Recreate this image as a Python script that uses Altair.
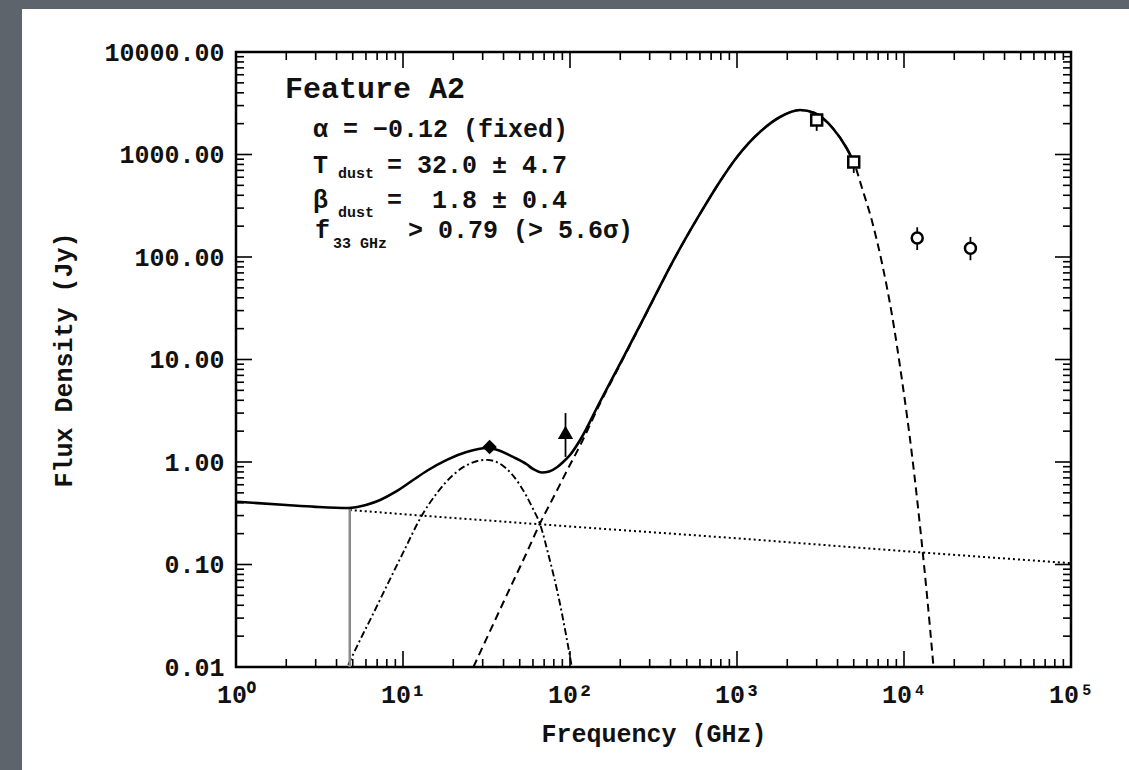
import altair as alt
import pandas as pd

# ---------------- data ----------------
# total model (solid)
total_freq = [1, 2, 3, 4.7, 6, 7.3, 9, 11.5, 14, 18.3, 24, 31.8, 38, 45.6, 55, 60, 68, 75, 84, 91, 100,
              115, 151, 205, 301, 402, 600, 801, 1000, 1392, 1809, 2384, 2915, 3737, 4530, 5000]
total_flux = [0.41, 0.38, 0.365, 0.356, 0.381, 0.426, 0.51, 0.667, 0.826, 1.05, 1.25, 1.37, 1.29, 1.12, 0.95, 0.855,
              0.79, 0.808, 0.894, 1.0, 1.17,
              1.64, 3.85, 9.9, 33.3, 83.5, 263, 564, 945, 1695, 2322, 2716, 2541, 1814, 1157, 845]

# free-free power law (dotted)
ff_freq = [4.8, 10, 100, 1000, 10000, 100000]
ff_flux = [0.34, 0.31, 0.235, 0.18, 0.135, 0.103]

# spinning dust (dash-dot)
spin_freq = [4.7, 5.5, 6.5, 8, 10, 13.2, 16, 20, 25, 31.7, 40, 50, 60, 66, 75, 85, 95, 102]
spin_flux = [0.0105, 0.018, 0.031, 0.062, 0.13, 0.316, 0.5, 0.75, 0.96, 1.05, 0.91, 0.6, 0.35, 0.25, 0.117, 0.05, 0.02, 0.0105]

# thermal dust (dashed)
dust_freq = [26.4, 35, 45, 55, 66, 80, 100, 115, 151, 205, 301, 402, 600, 801, 1000, 1392, 1809, 2384,
             2915, 3737, 4530, 5000, 5604, 6432, 7385, 8474, 9728, 11166, 12815, 13731, 15020]
dust_flux = [0.01, 0.027, 0.065, 0.13, 0.25, 0.46, 0.94, 1.45, 3.7, 9.7, 33, 83, 263, 564, 945, 1695, 2322, 2716,
             2541, 1814, 1157, 845, 471, 224, 87, 27.2, 6.3, 1.17, 0.155, 0.05, 0.01]

# vertical grey marker
vline_freq = [4.8]
vline_lo = [0.01]
vline_hi = [0.355]

# measurements
pt_freq = [33, 94, 3000, 5000, 12000, 25000]
pt_flux = [1.40, 1.92, 2170, 845, 153, 122]
pt_lo = [1.24, 1.12, 1700, 660, 117, 93]
pt_hi = [1.52, 3.0, 2510, 946, 195, 157]
pt_kind = ["diamond", "triangle", "square", "circle", "circle2", "circle2"]
pt_kind = ["diamond", "triangle", "square", "square", "circle", "circle"]

# axis ticks
x_major = [1, 10, 100, 1000, 10000, 100000]
y_major = [0.01, 0.1, 1, 10, 100, 1000, 10000]
mult = [2, 3, 4, 5, 6, 7, 8, 9]
x_minor = [m * d for d in x_major[:-1] for m in mult]
y_minor = [m * d for d in y_major[:-1] for m in mult]

# annotation text (anchored in data coordinates)
NB = "\u00a0"
ann_big = pd.DataFrame({"f": [1.965], "s": [3558], "t": ["Feature A2"]})
ann_main = pd.DataFrame({
    "f": [2.891, 2.891, 8.022, 2.891, 8.022, 2.972, 10.71],
    "s": [1482, 660, 660, 300.6, 300.6, 153, 153],
    "t": ["α = −0.12 (fixed)", "T", "= 32.0 ± 4.7", "β", "=" + NB + NB + "1.8 ± 0.4", "f", "> 0.79 (> 5.6σ)"],
})
ann_sub = pd.DataFrame({"f": [4.081, 4.081, 3.81], "s": [590, 245.6, 122.4], "t": ["dust", "dust", "33" + NB + "GHz"]})

# ---------------- chart ----------------
W, H = 835, 615
FONT = "Liberation Mono"
INK = "#111111"
xs = alt.Scale(type="log", domain=[1, 100000], nice=False)
ys = alt.Scale(type="log", domain=[0.01, 10000], nice=False)

x_axis = alt.Axis(
    values=x_major, title="Frequency (GHz)", grid=False, ticks=False, domain=False, labelFlush=False,
    labelExpr="'10' + ['⁰','¹','²','³','⁴','⁵'][round(log(datum.value)/LN10)]",
    labelFont=FONT, labelFontSize=25, labelFontWeight="bold", labelColor=INK, labelPadding=15,
    titleFont=FONT, titleFontSize=25, titleFontWeight="bold", titleColor=INK, titlePadding=14,
)
y_axis = alt.Axis(
    values=y_major, format=".2f", title="Flux Density (Jy)", grid=False, ticks=False, domain=False,
    labelFont=FONT, labelFontSize=25, labelFontWeight="bold", labelColor=INK, labelPadding=12,
    titleFont=FONT, titleFontSize=25, titleFontWeight="bold", titleColor=INK, titlePadding=27,
)


def X(field):
    return alt.X(field, type="quantitative", scale=xs, axis=x_axis)


def Y(field):
    return alt.Y(field, type="quantitative", scale=ys, axis=y_axis)


def curve(freq, flux, dash=None, width=1.8):
    df = pd.DataFrame({"f": freq, "s": flux})
    kw = dict(color="black", strokeWidth=width, interpolate="monotone", clip=True)
    if dash:
        kw["strokeDash"] = dash
    return alt.Chart(df).mark_line(**kw).encode(x=X("f"), y=Y("s"))


solid = curve(total_freq, total_flux, None, 2.6)
dotted = curve(ff_freq, ff_flux, [2, 3], 2.0)
dashdot = curve(spin_freq, spin_flux, [7, 3, 2, 3], 1.9)
dashed = curve(dust_freq, dust_flux, [8, 5], 2.0)

vline = alt.Chart(pd.DataFrame({"f": vline_freq, "lo": vline_lo, "hi": vline_hi})).mark_rule(
    color="#8a8a8a", strokeWidth=2.5).encode(x=X("f"), y=Y("lo"), y2="hi:Q")

pts_df = pd.DataFrame({"f": pt_freq, "s": pt_flux, "lo": pt_lo, "hi": pt_hi, "k": pt_kind})
errbars = alt.Chart(pts_df).mark_rule(color="black", strokeWidth=1.8).encode(
    x=X("f"), y=Y("lo"), y2="hi:Q")
kinds = ["diamond", "triangle", "square", "circle"]
markers = alt.Chart(pts_df).mark_point(color="black", strokeWidth=2.5, size=120, filled=False, opacity=1).encode(
    x=X("f"), y=Y("s"),
    shape=alt.Shape("k:N", scale=alt.Scale(domain=kinds, range=["diamond", "triangle-up", "square", "circle"]),
                    legend=None),
    fill=alt.Fill("k:N", scale=alt.Scale(domain=kinds, range=["black", "black", "white", "white"]), legend=None),
)


def yticks(vals, length):
    base = alt.Chart(pd.DataFrame({"v": vals}))
    left = base.mark_rule(color="black", strokeWidth=1.6).encode(y=Y("v"), x=alt.value(0), x2=alt.value(length))
    right = base.mark_rule(color="black", strokeWidth=1.6).encode(y=Y("v"), x=alt.value(W), x2=alt.value(W - length))
    return left + right


def xticks(vals, length):
    base = alt.Chart(pd.DataFrame({"v": vals}))
    bottom = base.mark_rule(color="black", strokeWidth=1.6).encode(x=X("v"), y=alt.value(H), y2=alt.value(H - length))
    top = base.mark_rule(color="black", strokeWidth=1.6).encode(x=X("v"), y=alt.value(0), y2=alt.value(length))
    return bottom + top


ticks = yticks(y_major, 16) + yticks(y_minor, 8) + xticks(x_major, 16) + xticks(x_minor, 8)

frame_df = pd.DataFrame({"a": [0]})
strip_left = alt.Chart(frame_df).mark_rect(color="#5e646c").encode(
    x=alt.value(-236), x2=alt.value(-214), y=alt.value(-52), y2=alt.value(718))
strip_top = alt.Chart(frame_df).mark_rect(color="#5e646c").encode(
    x=alt.value(-236), x2=alt.value(893), y=alt.value(-52), y2=alt.value(-43))


def text_layer(df, size):
    return alt.Chart(df).mark_text(align="left", baseline="alphabetic", font=FONT, fontSize=size,
                                   fontWeight="bold", color=INK).encode(x=X("f"), y=Y("s"), text="t:N")


texts = text_layer(ann_big, 30) + text_layer(ann_main, 25) + text_layer(ann_sub, 15)

chart = alt.layer(
    strip_left, strip_top, dotted, dashdot, dashed, vline, solid, errbars, markers, ticks, texts
).properties(
    width=W, height=H,
    autosize=alt.AutoSizeParams(type="none"),
    padding={"left": 236, "top": 52, "right": 58, "bottom": 103},
).configure(background="white").configure_view(stroke="black", strokeWidth=2.5)

chart.save("out.html", embed_options={"renderer": "svg", "actions": False})
